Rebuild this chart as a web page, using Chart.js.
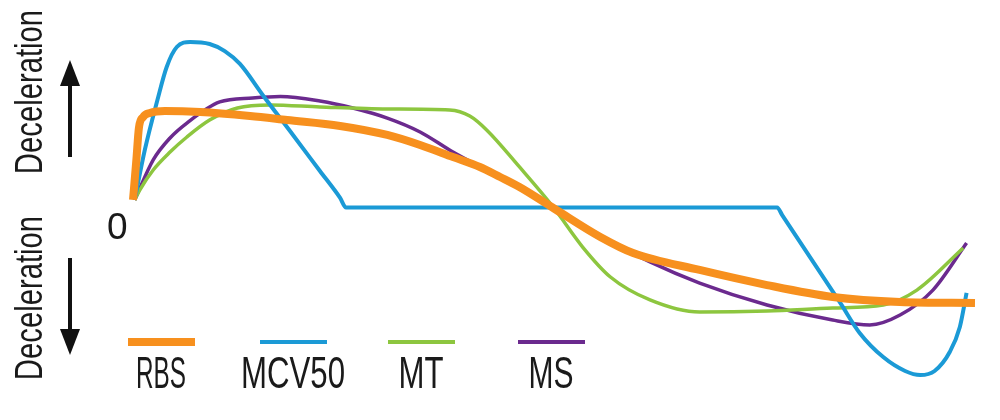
<!DOCTYPE html>
<html>
<head>
<meta charset="utf-8">
<script src="https://cdn.jsdelivr.net/npm/chart.js@4/dist/chart.umd.min.js"></script>
<style>
  body { margin: 0; background: #fff; }
  #wrap { position: relative; width: 1000px; height: 420px; }
  #myChart { position: absolute; left: 0; top: 0; }
  .lbl { position: absolute; font-family: "Liberation Sans", Arial, sans-serif; color: #1a1a1a; white-space: nowrap; line-height: 1; }
  .side { font-size: 38px; transform: translate(-50%, -50%) rotate(-90deg) scaleX(0.77); }
  .leg { font-size: 44px; }
  .swatch { position: absolute; }
</style>
</head>
<body>
<div id="wrap">
  <canvas id="myChart" width="1000" height="420"></canvas>
  <svg width="1000" height="420" style="position:absolute;left:0;top:0">
    <line x1="70" y1="157" x2="70" y2="80" stroke="#111" stroke-width="4"/>
    <polygon points="70,60 60,86 80,86" fill="#111"/>
    <line x1="70" y1="258" x2="70" y2="335" stroke="#111" stroke-width="4"/>
    <polygon points="70,355 60,329 80,329" fill="#111"/>
  </svg>
  <div class="lbl side" style="left:29px;top:92px">Deceleration</div>
  <div class="lbl side" style="left:29px;top:298px">Deceleration</div>
  <div class="lbl" style="left:107px;top:208px;font-size:37px">0</div>
  <div id="legend"></div>
</div>
<script>
// time axis (0-100) and deceleration (-100..100)
var rbsX = [0, 0.4, 0.7, 1.2, 2.0, 3.8, 8.0, 13.9, 18.3, 24.6, 30.2, 34.1, 38.0, 41.2, 43.6, 45.9, 50.1, 55.5, 59.4, 67.3, 75.3, 83.1, 91.1, 100];
var rbsY = [4.5, 28.4, 47.5, 54.0, 56.4, 57.6, 57.0, 54.6, 52.2, 48.7, 43.3, 37.3, 30.1, 24.2, 18.2, 12.2, -0.9, -17.6, -27.2, -37.3, -46.3, -53.4, -56.4, -57.0];

var mcvX = [0.2, 1.4, 2.9, 4.0, 5.2, 6.8, 9.1, 10.9, 12.7, 15.4, 19.0, 22.2, 24.6, 25.3, 27.0, 76.5, 77.1, 84.0, 86.3, 89.1, 91.7, 93.5, 95.2, 97.0, 98.2, 99.0];
var mcvY = [4.5, 34.3, 64.2, 83.9, 95.8, 98.8, 97.6, 93.4, 85.7, 67.2, 43.3, 21.8, 5.7, 0, 0, 0, -4.5, -57.0, -74.9, -89.3, -97.6, -100, -97.6, -86.3, -71.3, -51.0];

var mtX = [0.2, 0.8, 2.4, 4.4, 6.4, 9.1, 12.4, 16.3, 22.2, 30.2, 37.6, 40.0, 42.0, 45.9, 49.9, 53.4, 56.7, 61.4, 67.3, 75.3, 83.1, 89.1, 93.1, 98.6];
var mtY = [4.5, 10.4, 22.4, 33.1, 42.1, 52.2, 59.4, 61.2, 60.0, 58.8, 58.2, 54.6, 46.3, 24.2, 0.3, -23.6, -41.5, -55.2, -62.4, -61.8, -60.0, -58.2, -49.3, -24.2];

var msX = [0.2, 2.4, 4.4, 6.4, 10.3, 14.2, 17.5, 22.2, 26.1, 30.2, 34.1, 38.0, 42.4, 45.9, 50.1, 55.5, 61.4, 67.3, 75.3, 83.1, 87.5, 91.1, 95.0, 99.0];
var msY = [4.5, 28.4, 41.5, 50.4, 63.0, 65.4, 66.3, 63.6, 59.4, 53.4, 45.1, 33.1, 21.2, 12.2, -0.3, -17.0, -32.5, -45.1, -58.2, -67.2, -70.1, -64.2, -49.3, -21.2];

var seriesNames = ["RBS", "MCV50", "MT", "MS"];
var seriesColors = ["#f7901e", "#1b9ad6", "#8dc63f", "#6b2a8e"];
var seriesWidths = [8, 4, 3.5, 3.5];

function pts(xs, ys) {
  return xs.map(function(x, i) { return { x: x, y: ys[i] }; });
}

var allX = [rbsX, mcvX, mtX, msX];
var allY = [rbsY, mcvY, mtY, msY];

var datasets = seriesNames.map(function(name, i) {
  return {
    label: name,
    data: pts(allX[i], allY[i]),
    borderColor: seriesColors[i],
    borderWidth: seriesWidths[i],
    cubicInterpolationMode: 'monotone',
    pointRadius: 0,
    fill: false,
    clip: false
  };
});

var ctx = document.getElementById("myChart").getContext('2d');
window.myChart = new Chart(ctx, {
  type: 'line',
  data: { datasets: datasets },
  options: {
    responsive: false,
    animation: false,
    layout: { padding: { left: 133, right: 25, top: 40, bottom: 45 } },
    scales: {
      x: { type: 'linear', min: 0, max: 100, display: false },
      y: { min: -100, max: 100, display: false }
    },
    plugins: {
      legend: { display: false },
      tooltip: { enabled: false }
    }
  }
});

// legend drawn below the curves: a line sample above each name
var legendCenters = [161, 293, 421, 551];
var legendTextWidths = [50, 104, 45, 45];
var legend = document.getElementById('legend');
seriesNames.forEach(function(name, i) {
  var sw = document.createElement('div');
  sw.className = 'swatch';
  sw.style.left = (legendCenters[i] - 33) + 'px';
  sw.style.width = '67px';
  sw.style.top = (342 - seriesWidths[i] / 2) + 'px';
  sw.style.height = seriesWidths[i] + 'px';
  sw.style.background = seriesColors[i];
  legend.appendChild(sw);
  var t = document.createElement('div');
  t.className = 'lbl leg';
  t.style.top = '351px';
  t.textContent = name;
  legend.appendChild(t);
  // squeeze the name to the narrow lettering of the original
  var w = t.getBoundingClientRect().width;
  t.style.left = legendCenters[i] + 'px';
  t.style.transform = 'translate(-50%, 0) scaleX(' + (legendTextWidths[i] / w).toFixed(3) + ')';
});
</script>
</body>
</html>
